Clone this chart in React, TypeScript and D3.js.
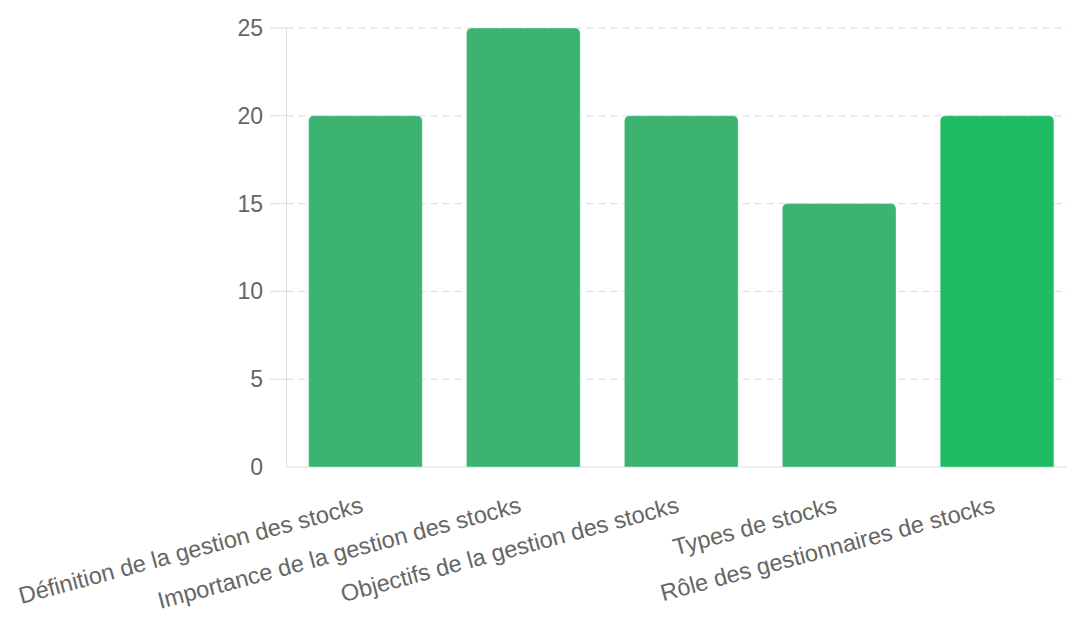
import React from "react";
import * as d3 from "d3";

const categories = [
  "Définition de la gestion des stocks",
  "Importance de la gestion des stocks",
  "Objectifs de la gestion des stocks",
  "Types de stocks",
  "Rôle des gestionnaires de stocks",
];
const values = [20, 25, 20, 15, 20];
const barColors = ["#3cb371", "#3cb371", "#3cb371", "#3cb371", "#1fbb62"];
const yTicks = [0, 5, 10, 15, 20, 25];

const W = 1067;
const H = 617;
const left = 286.5;
const right = 1076;
const top = 28;
const bottom = 467;

export default function App() {
  const x = d3.scaleBand<string>().domain(categories).range([left, right]);
  const y = d3.scaleLinear().domain([0, 25]).range([bottom, top]);
  const bw = x.bandwidth() * 0.72;
  const r = 5;
  const font = "'Liberation Sans', Arial, Helvetica, sans-serif";
  const gridColor = "#dadada";

  const barPath = (x0: number, y0: number, w: number, h: number) => {
    const p = d3.path();
    p.moveTo(x0, y0 + h);
    p.lineTo(x0, y0 + r);
    p.arcTo(x0, y0, x0 + r, y0, r);
    p.lineTo(x0 + w - r, y0);
    p.arcTo(x0 + w, y0, x0 + w, y0 + r, r);
    p.lineTo(x0 + w, y0 + h);
    p.closePath();
    return p.toString();
  };

  return (
    <svg
      width={W}
      height={H}
      style={{ position: "absolute", left: 0, top: 0, background: "#fff" }}
      fontFamily={font}
    >
      {/* horizontal grid */}
      {yTicks.map((t) =>
        t === 0 ? null : (
          <g key={t}>
            <line x1={270} x2={left} y1={y(t)} y2={y(t)} stroke={gridColor} strokeWidth={1} />
            <line
              x1={left}
              x2={W}
              y1={y(t)}
              y2={y(t)}
              stroke={gridColor}
              strokeWidth={1}
              strokeDasharray="7,5"
            />
          </g>
        )
      )}
      {/* axes */}
      <line x1={left} x2={left} y1={top} y2={bottom} stroke={gridColor} strokeWidth={1} />
      <line x1={left} x2={W} y1={bottom} y2={bottom} stroke={gridColor} strokeWidth={1} />

      {/* y tick labels */}
      {yTicks.map((t) => (
        <text
          key={t}
          x={263}
          y={y(t)}
          textAnchor="end"
          dominantBaseline="central"
          fontSize={23}
          fill="#666"
        >
          {t}
        </text>
      ))}

      {/* bars */}
      {categories.map((c, i) => {
        const cx = (x(c) as number) + x.bandwidth() / 2;
        const y0 = y(values[i]);
        return (
          <path
            key={c}
            d={barPath(cx - bw / 2, y0, bw, bottom - y0)}
            fill={barColors[i]}
            stroke="rgba(255,255,255,0.35)"
            strokeWidth={1}
          />
        );
      })}

      {/* x labels */}
      {categories.map((c) => {
        const cx = (x(c) as number) + x.bandwidth() / 2;
        return (
          <text
            key={c}
            transform={`translate(${cx - 1},${512}) rotate(-15)`}
            textAnchor="end"
            fontSize={23.5}
            fill="#666"
          >
            {c}
          </text>
        );
      })}
    </svg>
  );
}
